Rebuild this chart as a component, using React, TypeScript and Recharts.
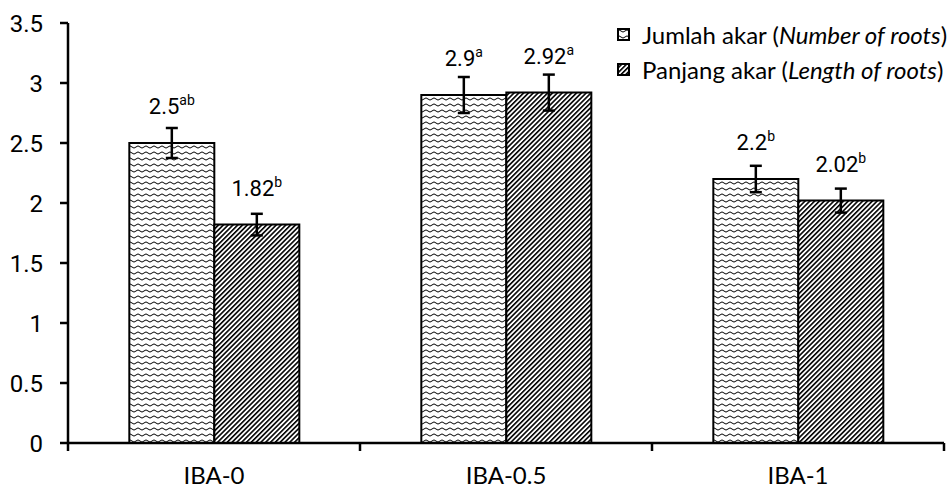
import { BarChart, Bar, XAxis, YAxis, Legend, ErrorBar, LabelList } from "recharts";

const categories = ["IBA-0", "IBA-0.5", "IBA-1"];
const jumlahAkar = [2.5, 2.9, 2.2];
const jumlahErr = [0.125, 0.15, 0.11];
const jumlahSig = ["ab", "a", "b"];
const panjangAkar = [1.82, 2.92, 2.02];
const panjangErr = [0.09, 0.15, 0.1];
const panjangSig = ["b", "a", "b"];
const yTicks = [0, 0.5, 1, 1.5, 2, 2.5, 3, 3.5];

const data = categories.map((name, i) => ({
  name,
  jumlah: jumlahAkar[i],
  jumlahErr: jumlahErr[i],
  panjang: panjangAkar[i],
  panjangErr: panjangErr[i],
}));

const W = 951;
const H = 488;
const AXIS_W = 68;
const RIGHT = 7;
const BAND = (W - AXIS_W - RIGHT) / categories.length;
const NUM_FONT = "Roboto, sans-serif";
const TEXT_FONT = "Lato, sans-serif";

function CategoryTick(props: any) {
  const { x, y, payload, index } = props;
  const half = BAND / 2;
  return (
    <g>
      <line x1={x - half} x2={x - half} y1={y - 8} y2={y} stroke="#000" strokeWidth={2.5} />
      {index === categories.length - 1 && (
        <line x1={x + half} x2={x + half} y1={y - 8} y2={y} stroke="#000" strokeWidth={2.5} />
      )}
      <text x={x} y={y + 33} textAnchor="middle" fontFamily={TEXT_FONT} fontSize={24} fill="#000">
        {payload.value}
      </text>
    </g>
  );
}

// value label with significance letter as superscript
const sigLabel = (sig: string[]) => (props: any) => {
  const { x, y, width, value, index } = props;
  return (
    <text x={x + width / 2} y={y - 29} textAnchor="middle" fontFamily={NUM_FONT} fontSize={22} fill="#000">
      {value}
      <tspan fontSize={14} dy={-9}>{sig[index]}</tspan>
    </text>
  );
};

function LegendBox() {
  const items = [
    { fill: "url(#wave)", main: "Jumlah akar (", it: "Number of roots" },
    { fill: "url(#hatch)", main: "Panjang akar (", it: "Length of roots" },
  ];
  return (
    <div style={{ fontFamily: TEXT_FONT, fontSize: 24, color: "#000" }}>
      {items.map((d) => (
        <div key={d.it} style={{ display: "flex", alignItems: "center", height: 35 }}>
          <svg width={13} height={13} style={{ flex: "none" }}>
            <rect x={1} y={1} width={11} height={11} fill={d.fill} stroke="#000" strokeWidth={2} />
          </svg>
          <span style={{ marginLeft: 12, whiteSpace: "nowrap" }}>
            {d.main}
            <i>{d.it}</i>)
          </span>
        </div>
      ))}
    </div>
  );
}

export default function App() {
  return (
    <div style={{ position: "absolute", left: 0, top: 0, background: "#fff" }}>
      <BarChart
        width={W}
        height={H}
        data={data}
        margin={{ top: 23, right: RIGHT, bottom: 0, left: 0 }}
        barCategoryGap="21%"
        barGap={0}
      >
        <defs>
          <pattern id="wave" patternUnits="userSpaceOnUse" width={8} height={6}>
            <rect width={8} height={6} fill="#fff" />
            <path d="M0 3 Q2 0.8 4 3 T8 3" fill="none" stroke="#000" strokeWidth={1} />
          </pattern>
          <pattern id="hatch" patternUnits="userSpaceOnUse" width={3.4} height={3.4} patternTransform="rotate(45)">
            <rect width={3.4} height={3.4} fill="#fff" />
            <line x1={0.8} y1={0} x2={0.8} y2={3.4} stroke="#000" strokeWidth={1.6} />
          </pattern>
        </defs>
        <XAxis
          dataKey="name"
          height={45}
          axisLine={{ stroke: "#000", strokeWidth: 2.5 }}
          tickLine={false}
          tickSize={8}
          tickMargin={0}
          tick={<CategoryTick />}
          interval={0}
        />
        <YAxis
          width={AXIS_W}
          domain={[0, 3.5]}
          ticks={yTicks}
          interval={0}
          axisLine={{ stroke: "#000", strokeWidth: 2.5 }}
          tickLine={{ stroke: "#000", strokeWidth: 2.5 }}
          tickSize={8}
          tickMargin={17}
          tick={{ fill: "#000", fontSize: 24, fontFamily: NUM_FONT }}
        />
        <Legend
          layout="horizontal"
          verticalAlign="middle"
          align="center"
          width={336}
          wrapperStyle={{ left: 617, top: 17, width: 336 }}
          content={<LegendBox />}
        />
        <Bar dataKey="jumlah" name="Jumlah akar" fill="url(#wave)" stroke="#000" strokeWidth={2} isAnimationActive={false}>
          <ErrorBar dataKey="jumlahErr" width={6} stroke="#000" strokeWidth={2.5} />
          <LabelList dataKey="jumlah" content={sigLabel(jumlahSig)} />
        </Bar>
        <Bar dataKey="panjang" name="Panjang akar" fill="url(#hatch)" stroke="#000" strokeWidth={2} isAnimationActive={false}>
          <ErrorBar dataKey="panjangErr" width={6} stroke="#000" strokeWidth={2.5} />
          <LabelList dataKey="panjang" content={sigLabel(panjangSig)} />
        </Bar>
      </BarChart>
    </div>
  );
}
